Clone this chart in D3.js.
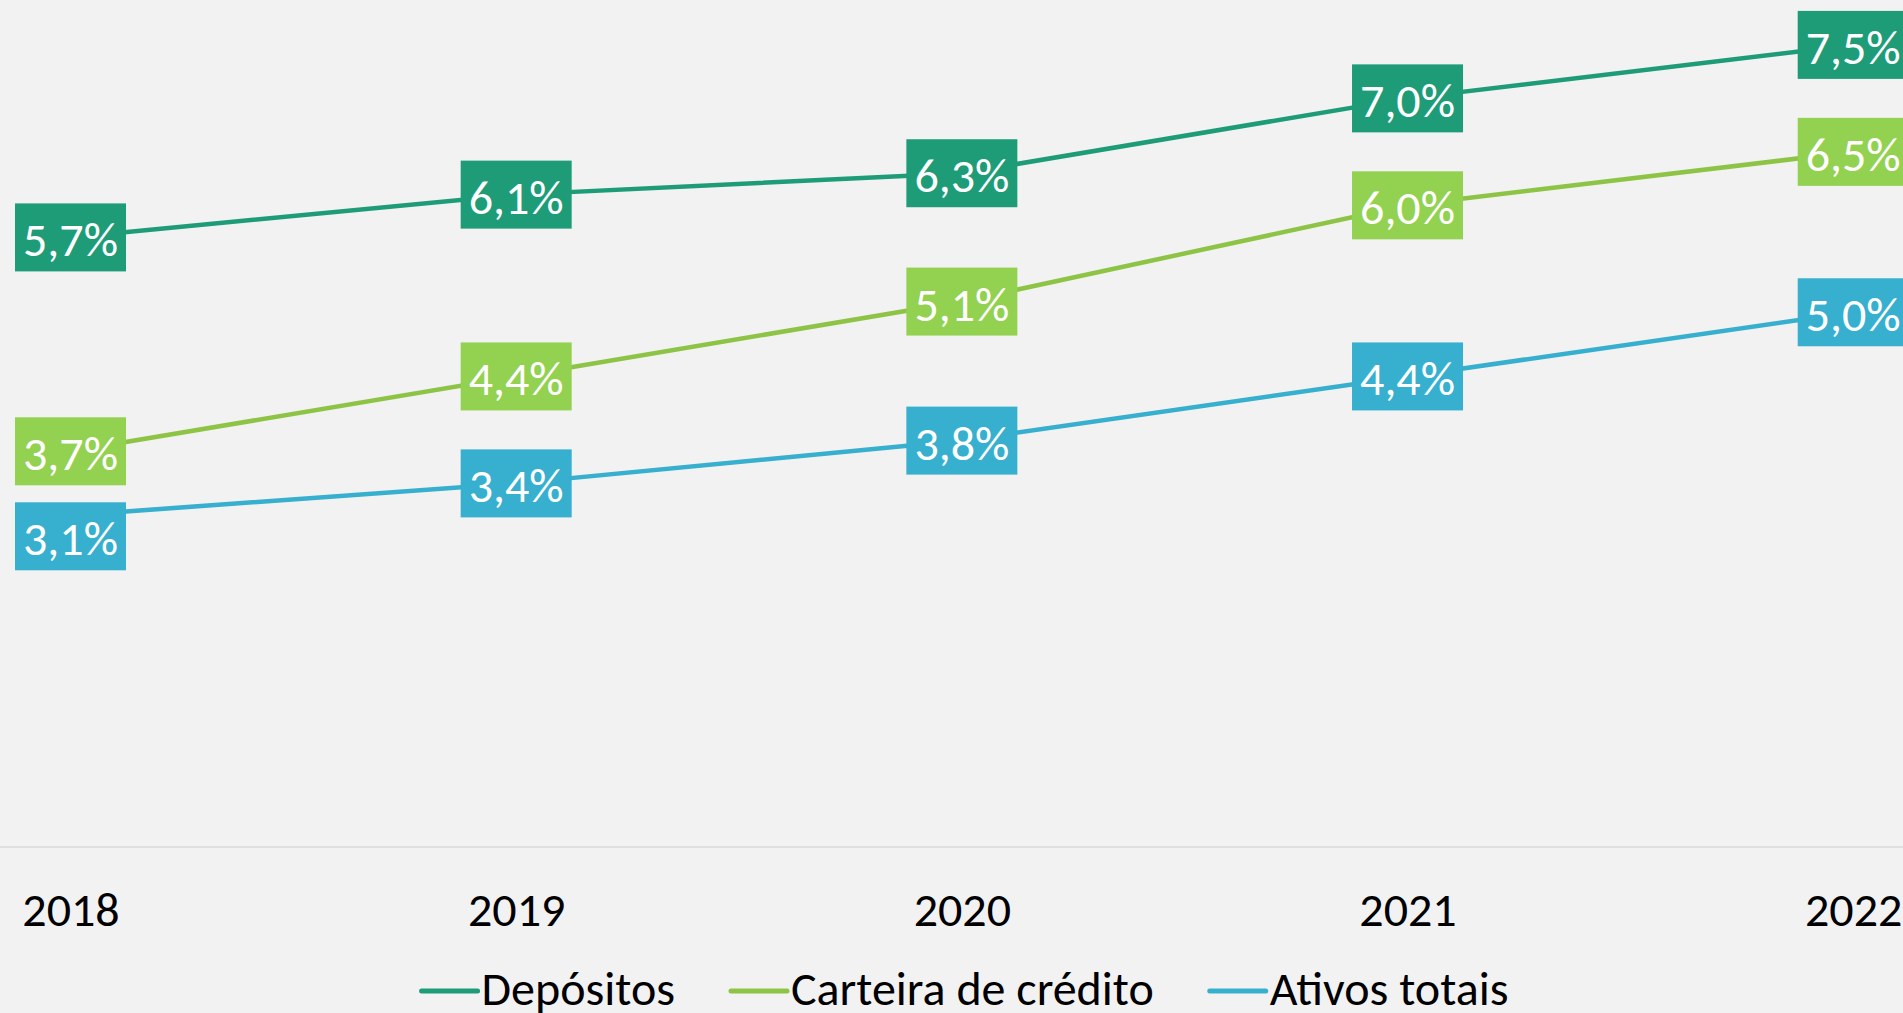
<!DOCTYPE html>
<html>
<head>
<meta charset="utf-8">
<script src="https://cdn.jsdelivr.net/npm/d3@7"></script>
<style>
  html, body { margin: 0; padding: 0; background: #F2F2F2; overflow: hidden; }
  svg { display: block; }
  text { font-family: Carlito, Calibri, Lato, sans-serif; }
</style>
</head>
<body>
<svg id="chart" width="1903" height="1013"></svg>
<script>
const categories = ["2018", "2019", "2020", "2021", "2022"];
const depositos = [5.7, 6.1, 6.3, 7.0, 7.5];
const carteira = [3.7, 4.4, 5.1, 6.0, 6.5];
const ativos = [3.1, 3.4, 3.8, 4.4, 5.0];
const seriesNames = ["Depósitos", "Carteira de crédito", "Ativos totais"];
const lineColors = ["#1E9C78", "#8DC445", "#37AFCF"];
const boxColors = ["#1E9C78", "#93D150", "#37AFCF"];

const series = [depositos, carteira, ativos].map((vals, i) => ({
  name: seriesNames[i], line: lineColors[i], box: boxColors[i],
  values: vals.map((v, j) => ({ cat: categories[j], v }))
}));

const W = 1903, H = 1013;
const svg = d3.select("#chart");
svg.append("rect").attr("width", W).attr("height", H).attr("fill", "#F2F2F2");

const x = d3.scalePoint().domain(categories).range([70.5, 1853.2]);
const y = d3.scaleLinear().domain([0, 7.5]).range([847, 44.9]);
const fmt = v => d3.format(".1f")(v).replace(".", ",") + "%";

// category axis
const axis = d3.axisBottom(x).tickSize(0).tickPadding(0);
const gAxis = svg.append("g").attr("transform", `translate(0,${y(0)})`).call(axis);
gAxis.select(".domain").remove();
gAxis.append("line").attr("x1", 0).attr("x2", W).attr("y1", 0).attr("y2", 0)
  .attr("stroke", "#D9D9D9").attr("stroke-width", 1.5);
gAxis.selectAll(".tick text")
  .attr("y", 0).attr("dy", 0)
  .attr("transform", "translate(0,79)")
  .attr("fill", "#000").attr("font-size", 48)
  .style("font-family", "Carlito, Calibri, Lato, sans-serif");

// lines
const line = d3.line().x(d => x(d.cat)).y(d => y(d.v));
svg.append("g").selectAll("path").data(series).join("path")
  .attr("d", d => line(d.values))
  .attr("fill", "none").attr("stroke", d => d.line)
  .attr("stroke-width", 4.5).attr("stroke-linejoin", "round");

// labels with simple collision avoidance per category
const boxW = 111, boxH = 68;
const labels = [];
series.forEach((s, si) => s.values.forEach(d => {
  labels.push({ si, s, d, cx: x(d.cat), cy: y(d.v) });
}));
categories.forEach(c => {
  const col = labels.filter(l => l.d.cat === c).sort((a, b) => a.cy - b.cy);
  for (let i = 1; i < col.length; i++) {
    const prev = col[i - 1];
    if (col[i].cy - boxH / 2 < prev.cy + boxH / 2) {
      col[i].cy = prev.cy + boxH + 17;
    }
  }
});
const gLab = svg.append("g").selectAll("g").data(labels).join("g")
  .attr("transform", l => `translate(${l.cx},${l.cy})`);
gLab.append("rect")
  .attr("x", -boxW / 2).attr("y", -boxH / 2)
  .attr("width", boxW).attr("height", boxH)
  .attr("fill", l => l.s.box);
gLab.append("text")
  .attr("text-anchor", "middle").attr("y", 19)
  .attr("font-size", 48).attr("fill", "#fff")
  .text(l => fmt(l.d.v));

// legend
const leg = svg.append("g");
const items = leg.selectAll("g").data(series).join("g");
items.append("line").attr("x1", 0).attr("x2", 56).attr("y1", 0).attr("y2", 0)
  .attr("stroke", d => d.line).attr("stroke-width", 5).attr("stroke-linecap", "round");
items.append("text").attr("x", 60).attr("y", 14).attr("font-size", 48)
  .attr("fill", "#000").text(d => d.name);
let offset = 0;
items.each(function () {
  const g = d3.select(this);
  g.attr("transform", `translate(${offset},0)`);
  const tw = g.select("text").node().getComputedTextLength();
  offset += 60 + tw + 56;
});
const total = offset - 56;
leg.attr("transform", `translate(${965 - total / 2},991)`);
</script>
</body>
</html>
